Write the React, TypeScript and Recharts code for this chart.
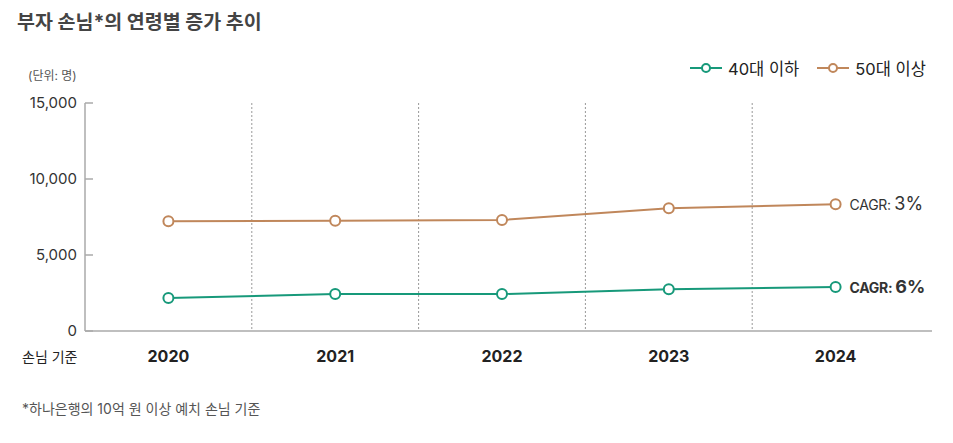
import { LineChart, Line, XAxis, YAxis, CartesianGrid, LabelList } from 'recharts';

const years = ['2020', '2021', '2022', '2023', '2024'];
const under40 = [2170, 2430, 2430, 2740, 2900];
const over50 = [7220, 7250, 7300, 8070, 8340];
const yTicks = [0, 5000, 10000, 15000];
const cagr = { under40: '6%', over50: '3%' };

const GREEN = '#17997a';
const BROWN = '#c0875b';
const FONT = 'Inter, "Noto Sans CJK KR", sans-serif';
const RIGHT_PAD = 13;

const data = years.map((year, i) => ({ year, under40: under40[i], over50: over50[i] }));

interface TickProps {
  x: number;
  y: number;
  payload: { value: number };
}

function YTick({ x, y, payload }: TickProps): JSX.Element {
  return (
    <g>
      <line x1={x + 8} x2={x + 16} y1={y} y2={y} stroke="#aaa" strokeWidth={1.5} />
      <text x={x} y={y} dy="0.35em" textAnchor="end" fontSize={15} fill="#333" fontFamily={FONT}>
        {payload.value.toLocaleString('en-US')}
      </text>
    </g>
  );
}

function cagrLabel(text: string, bold: boolean) {
  return (props: any) => {
    const { x, y, index } = props;
    if (index !== years.length - 1) return null;
    return (
      <text x={x + 14} y={y} dy="0.36em" fill="#333" fontFamily={FONT} fontWeight={bold ? 700 : 400}>
        <tspan fontSize={14} letterSpacing={-0.3}>CAGR: </tspan>
        <tspan fontSize={18}>{text}</tspan>
      </text>
    );
  };
}

// dotted separators at the boundaries between year bands
function bandBoundaries({ xAxis, offset }: any): number[] {
  const scale = xAxis?.scale;
  try {
    if (typeof scale === 'function' && typeof scale.bandwidth === 'function') {
      return years.slice(1).map((y) => scale(y));
    }
    if (scale && typeof scale.map === 'function' && !Array.isArray(scale)) {
      const out = years.slice(1).map((y) => scale.map(y));
      if (out.every((v: unknown) => typeof v === 'number' && !Number.isNaN(v))) return out;
    }
  } catch (e) {
    // fall through to the layout-based fallback
  }
  const step = (offset.width - RIGHT_PAD) / years.length;
  return years.slice(1).map((_, i) => offset.left + step * (i + 1));
}

function LegendBox(): JSX.Element {
  const items = [
    { name: '40대 이하', color: GREEN },
    { name: '50대 이상', color: BROWN },
  ];
  return (
    <div style={{ display: 'flex', gap: 18, fontSize: 16.5, color: '#222' }}>
      {items.map((it) => (
        <div key={it.name} style={{ display: 'flex', alignItems: 'center', gap: 6 }}>
          <svg width={32} height={12}>
            <line x1={0} x2={32} y1={6} y2={6} stroke={it.color} strokeWidth={2} />
            <circle cx={16} cy={6} r={4} fill="#fff" stroke={it.color} strokeWidth={2} />
          </svg>
          <span>{it.name}</span>
        </div>
      ))}
    </div>
  );
}

export default function App(): JSX.Element {
  return (
    <div style={{ position: 'absolute', left: 0, top: 0, width: 953, height: 443, background: '#fff', fontFamily: FONT }}>
      <div style={{ position: 'absolute', left: 17, top: 6, fontSize: 19.5, fontWeight: 700, color: '#444' }}>
        부자 손님*의 연령별 증가 추이
      </div>
      <div style={{ position: 'absolute', left: 28, top: 66, fontSize: 12, color: '#555' }}>(단위: 명)</div>
      <div style={{ position: 'absolute', left: 690, top: 56 }}>
        <LegendBox />
      </div>
      <div style={{ position: 'absolute', left: 22, top: 346, fontSize: 14, color: '#222' }}>손님 기준</div>
      <div style={{ position: 'absolute', left: 22, top: 398, fontSize: 14, color: '#555' }}>
        *하나은행의 10억 원 이상 예치 손님 기준
      </div>
      <div style={{ position: 'absolute', left: 0, top: 0 }}>
        <LineChart width={953} height={380} data={data} margin={{ top: 103, right: 21, bottom: 0, left: 0 }}>
          <CartesianGrid
            horizontal={false}
            vertical
            verticalCoordinatesGenerator={bandBoundaries}
            stroke="#999"
            strokeDasharray="2 2"
          />
          <XAxis
            dataKey="year"
            scale="band"
            padding={{ left: 0, right: RIGHT_PAD }}
            axisLine={{ stroke: '#aaa', strokeWidth: 1.5 }}
            tickLine={false}
            tickSize={0}
            tickMargin={20}
            height={49}
            tick={{ fontSize: 16, fontWeight: 700, fill: '#222', fontFamily: FONT }}
          />
          <YAxis
            domain={[0, 15000]}
            ticks={yTicks}
            width={85}
            axisLine={{ stroke: '#aaa', strokeWidth: 1.5 }}
            tickLine={false}
            tickSize={0}
            tickMargin={8}
            tick={(p: any) => <YTick {...p} />}
          />
          <Line
            dataKey="under40"
            name="40대 이하"
            stroke={GREEN}
            strokeWidth={2}
            dot={{ r: 5, fill: '#fff', stroke: GREEN, strokeWidth: 2 }}
            isAnimationActive={false}
          >
            <LabelList dataKey="under40" content={cagrLabel(cagr.under40, true)} />
          </Line>
          <Line
            dataKey="over50"
            name="50대 이상"
            stroke={BROWN}
            strokeWidth={2}
            dot={{ r: 5, fill: '#fff', stroke: BROWN, strokeWidth: 2 }}
            isAnimationActive={false}
          >
            <LabelList dataKey="over50" content={cagrLabel(cagr.over50, false)} />
          </Line>
        </LineChart>
      </div>
    </div>
  );
}
